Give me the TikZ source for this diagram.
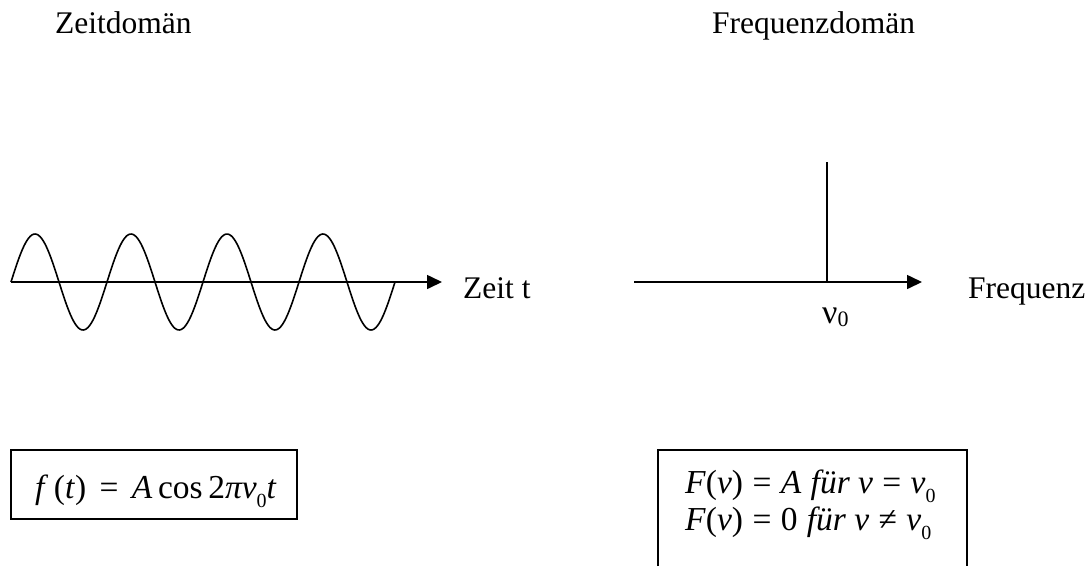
\documentclass[tikz,border=0pt]{standalone}
\usepackage{fontspec}
\setmainfont{Liberation Serif}
\usetikzlibrary{arrows.meta}
\newcommand{\bigfont}{\fontsize{31.5}{36}\selectfont}
\newcommand{\eqfont}{\fontsize{33.5}{38}\selectfont}
\newcommand{\subz}{\raisebox{-0.28em}{\fontsize{20}{20}\selectfont 0}}
\newcommand{\eqsp}{\hspace{0.28em}}
\newcommand{\eqspl}{\hspace{0.4em}}
\tikzset{
  lbl/.style={anchor=base west, inner sep=0pt, font=\bigfont},
  eq/.style={anchor=base west, inner sep=0pt, font=\eqfont},
  axis/.style={line width=1.6pt, -{Triangle[length=15pt,width=14pt]}},
  curve/.style={line width=1.6pt},
  frame/.style={line width=1.4pt}
}
\begin{document}
\begin{tikzpicture}[x=1pt,y=-1pt]
\useasboundingbox (0,0) rectangle (1091,566);
% titles
\node[lbl] (tz) at (55,33) {Zeitdomän};
\node[lbl] (tf) at (712,33) {Frequenzdomän};
% time domain
\coordinate (a0) at (11,282);
\coordinate (a1) at (442,282);
\draw[axis] (a0) -- (a1);
\draw[curve] plot[domain=0:384, samples=240, smooth] ({\x+11},{282-48*sin(\x*3.75)});
\node[lbl] (zeit) at (463,298) {Zeit t};
% frequency domain
\coordinate (b0) at (634,282);
\coordinate (b1) at (922,282);
\coordinate (p0) at (827,282);
\coordinate (p1) at (827,162);
\draw[axis] (b0) -- (b1);
\draw[curve] (p0) -- (p1);
\node[lbl] (freq) at (968,298) {Frequenz};
\node[lbl] (nu) at (822,323) {{\fontsize{34}{34}\selectfont ν}\raisebox{-0.1em}{\fontsize{22}{22}\selectfont 0}};
% formula boxes
\draw[frame] (11,450) rectangle (297,519);
\node[eq] (f1) at (35,498) {\textit{f}\,(\textit{t})\eqspl=\eqspl\textit{A}\,cos\,2\textit{πν}\subz\textit{t}};
\draw[frame] (658,566) -- (658,450) -- (967,450) -- (967,566);
\node[eq] (F1) at (685,493) {\textit{F}(\textit{ν})\eqsp=\eqsp\textit{A}\eqsp\textit{für ν}\eqsp=\eqsp\textit{ν}\subz};
\node[eq] (F2) at (685,530) {\textit{F}(\textit{ν})\eqsp=\eqsp0\eqsp\textit{für ν}\eqsp≠\eqsp\textit{ν}\subz};
\end{tikzpicture}
\end{document}
